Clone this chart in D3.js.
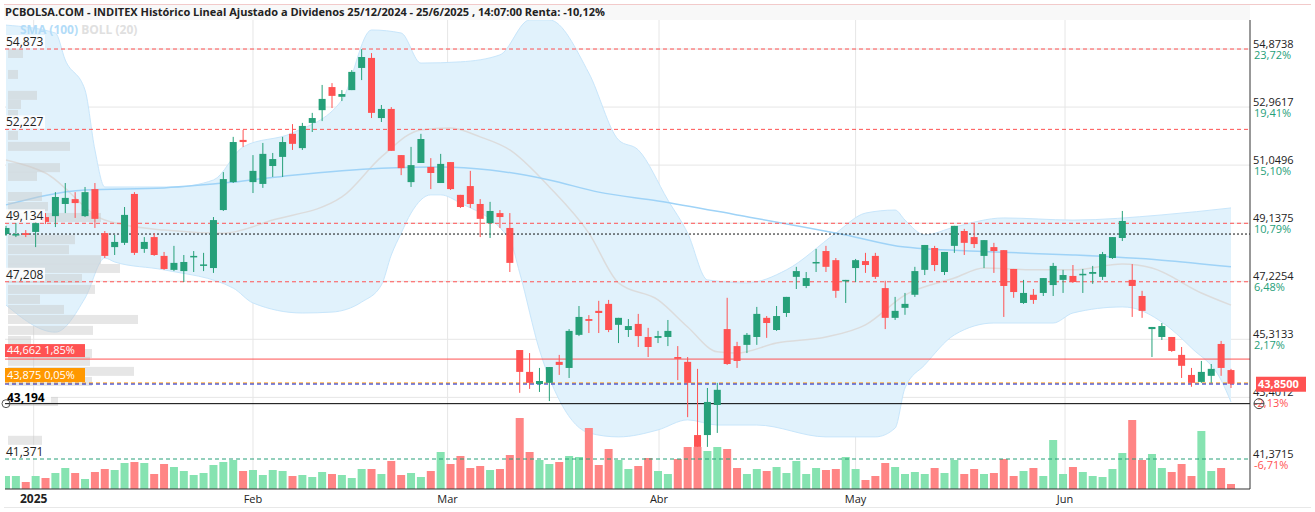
<!DOCTYPE html>
<html><head><meta charset="utf-8">
<script src="https://cdn.jsdelivr.net/npm/d3@7"></script>
<style>body{margin:0;background:#fff;font-family:"Open Sans","DejaVu Sans",sans-serif}</style>
</head><body><div id="chart"></div>
<script>
// OHLC per trading session, 26/12/2024 .. 25/6/2025
const opens  = [48.78,48.75,48.81,48.85,49.34,49.37,49.77,49.93,49.37,50.26,48.81,48.35,48.49,50.10,48.29,48.68,48.06,47.60,47.56,48.04,47.75,47.66,49.57,50.49,51.88,50.49,50.43,51.02,51.32,52.08,51.61,52.44,52.86,53.62,53.30,53.52,54.25,54.58,52.60,52.90,51.38,50.49,51.12,50.99,50.46,51.15,50.07,50.36,49.77,49.14,49.47,48.98,44.96,44.24,43.84,43.88,44.57,44.37,45.46,45.98,46.25,46.48,45.79,45.62,45.82,45.39,45.36,45.39,44.73,44.57,42.16,42.16,43.15,45.65,45.09,45.13,45.39,46.02,45.62,46.18,47.37,47.07,47.83,48.22,47.92,47.24,47.66,47.89,48.06,47.00,46.02,46.35,46.78,47.60,48.32,47.53,48.39,48.88,48.68,48.06,48.35,48.25,47.63,46.51,46.78,46.84,47.10,47.27,47.40,47.43,47.47,47.37,47.99,48.65,47.27,46.74,45.65,45.39,45.39,44.80,44.14,43.91,44.11,45.16,44.30];
const highs  = [49.05,49.14,48.91,49.16,49.47,50.16,50.46,50.16,50.33,50.46,48.88,48.75,49.67,50.16,48.68,48.81,48.19,48.39,48.09,48.22,48.16,49.34,50.82,51.98,52.21,51.38,51.78,51.45,51.98,52.40,52.44,52.77,53.69,53.75,53.52,54.18,54.87,54.74,53.03,52.96,51.38,51.65,52.08,51.28,51.42,51.15,50.07,50.86,49.93,49.84,49.57,49.47,44.96,44.86,44.37,44.40,44.80,45.65,46.41,46.11,46.58,46.61,46.02,45.98,46.15,45.69,45.59,45.95,45.09,44.73,44.34,43.71,43.88,46.68,45.23,45.52,46.38,46.08,46.41,46.71,47.70,47.53,48.29,48.39,47.99,47.27,47.96,48.16,48.16,47.24,46.71,46.84,47.70,48.42,48.39,48.19,49.05,48.95,49.14,48.58,48.49,48.25,47.63,47.27,46.97,47.33,47.83,47.60,47.76,47.63,47.73,48.19,48.68,49.54,47.79,46.91,45.72,45.85,45.39,45.06,44.37,44.60,44.50,45.26,44.34];
const lows   = [48.72,48.68,48.68,48.35,49.11,49.01,49.47,49.31,49.34,48.98,47.99,48.09,48.42,48.09,48.16,48.06,47.60,47.56,47.20,47.53,47.56,47.50,49.54,50.46,51.65,50.13,50.30,50.66,50.66,51.55,51.55,52.14,52.50,52.93,53.16,53.52,53.85,52.60,52.47,51.52,50.72,50.33,51.12,50.26,50.46,50.23,49.64,49.64,48.68,48.65,48.98,47.53,43.55,43.68,43.58,43.28,44.14,44.04,45.42,45.52,45.52,45.55,45.19,45.39,45.06,44.73,45.19,45.09,43.97,42.75,41.77,41.77,42.23,44.47,44.37,44.86,45.13,45.36,45.59,46.05,46.97,47.00,47.53,47.53,46.68,46.51,47.20,47.50,47.30,45.65,45.95,46.12,46.71,47.43,47.56,47.43,48.16,48.09,48.32,47.66,47.50,46.05,46.68,46.48,46.48,46.74,46.74,46.84,47.17,46.84,47.14,47.27,47.96,48.55,46.05,46.02,44.73,45.29,44.90,44.04,43.75,43.88,43.88,44.11,43.71];
const closes = [48.98,48.78,48.75,49.14,49.18,50.00,49.97,49.80,50.16,49.28,48.06,48.52,49.41,48.16,48.52,48.09,47.63,47.83,47.86,48.06,47.78,49.24,50.59,51.81,51.81,50.86,51.42,51.25,51.81,51.75,52.34,52.60,53.23,53.33,53.39,54.12,54.61,52.77,52.90,51.52,50.95,51.05,51.91,50.79,51.09,50.26,49.67,49.77,49.28,49.54,49.34,47.83,44.24,43.88,43.94,44.40,44.47,45.59,46.05,45.92,46.18,45.62,46.02,45.75,45.42,45.06,45.42,45.59,44.67,43.88,41.77,43.25,43.65,44.50,44.60,45.46,46.15,45.85,46.08,46.71,47.56,47.33,47.86,47.70,46.91,47.27,47.92,47.76,47.37,46.02,46.25,46.48,47.56,48.42,47.76,48.19,49.05,48.49,48.45,48.58,48.22,47.07,46.87,46.84,46.61,47.33,47.73,47.43,47.20,47.47,47.53,48.12,48.68,49.21,47.07,46.25,45.72,45.75,44.93,44.44,43.88,44.24,44.34,44.37,43.85];
// volume, millions of shares
const volumes = [1.3,1.3,0.7,1.3,1.1,1.6,2.1,1.6,1.0,1.7,2.0,1.9,2.6,2.7,2.6,1.5,2.5,2.2,1.8,1.4,1.6,2.4,2.7,2.9,1.8,1.9,1.4,1.9,1.8,1.3,1.4,1.2,1.7,1.5,1.4,1.1,2.0,2.0,1.5,2.8,1.4,1.6,1.2,1.8,3.7,2.5,3.3,2.1,2.3,1.9,2.0,3.4,7.1,3.7,2.9,2.5,2.7,3.3,3.2,6.1,2.4,4.0,2.9,2.0,2.3,3.1,1.8,1.5,3.0,4.2,4.2,3.8,4.2,4.0,2.1,1.5,2.0,1.8,2.2,1.6,2.8,1.5,2.1,1.9,2.0,3.2,2.0,0.9,1.3,2.6,2.2,1.5,1.7,1.5,2.1,1.6,2.9,1.5,2.0,1.5,1.6,3.0,1.3,1.8,2.1,1.3,4.9,1.5,2.2,1.7,1.3,1.2,2.0,3.6,6.9,2.9,3.5,2.1,1.7,2.5,1.3,5.8,1.8,2.1,0.5];

// indicators: [session index, value]
const sma100 = [[0,49.74],[8,50.23],[16,50.30],[23,50.49],[29,50.72],[38,50.95],[44,50.99],[49,50.89],[55,50.56],[60,50.16],[66,49.87],[74,49.41],[85,48.75],[91,48.35],[100,48.19],[108,48.09],[117,47.92],[124,47.70]];
const bollUpper = [[0,55.66],[5,55.40],[6,54.51],[8,53.52],[9,51.55],[10,50.33],[13,50.33],[17,50.33],[21,50.56],[24,51.65],[29,52.11],[34,53.19],[37,55.50],[40,55.40],[42,54.41],[46,54.45],[50,54.68],[53,55.83],[55,55.83],[59,54.08],[62,51.88],[64,51.55],[67,49.90],[69,48.81],[71,47.27],[75,47.17],[79,47.60],[84,48.81],[87,49.47],[90,49.57],[91,49.24],[93,48.75],[96,49.01],[101,49.31],[108,49.24],[117,49.41],[124,49.64]];
const bollLower = [[0,46.44],[5,45.55],[8,46.67],[10,47.99],[11,47.86],[16,47.60],[23,47.00],[25,46.51],[30,46.18],[33,46.21],[36,46.54],[38,47.10],[39,48.09],[40,48.81],[41,49.47],[43,50.07],[44,50.07],[46,49.80],[51,48.58],[52,47.50],[54,44.96],[56,43.32],[59,42.23],[62,42.10],[66,42.33],[69,42.66],[72,42.49],[76,42.49],[83,42.10],[88,42.10],[90,42.39],[91,43.71],[93,44.47],[96,45.46],[100,45.85],[106,45.85],[108,46.18],[113,46.38],[114,46.35],[117,45.88],[120,45.03],[123,43.97],[124,43.25]];
const bollMid = [[0,51.22],[4,50.79],[10,49.24],[16,48.91],[22,48.81],[27,49.24],[34,50.00],[38,51.32],[42,52.21],[45,52.27],[48,51.98],[51,51.55],[55,50.33],[59,48.81],[62,47.17],[66,46.61],[69,45.72],[72,44.90],[74,44.86],[78,45.19],[83,45.39],[87,45.79],[91,46.77],[96,47.33],[99,47.66],[104,47.60],[108,47.60],[113,47.79],[116,47.66],[121,46.84],[124,46.44]];

// volume profile: price bin, relative size
const profilePrice = [54.71,54.02,53.33,53.03,52.70,52.01,51.65,50.95,50.66,50.00,49.67,49.31,48.58,48.25,47.92,47.63,47.30,46.94,46.61,46.28,45.95,45.59,45.26,44.83,44.57,44.24,43.91,43.25,41.97];
const profileSize  = [15,10,29,13,10,10,62,52,29,34,40,93,67,61,93,112,74,87,32,56,130,85,23,84,82,126,84,50,34];

const priceTicks = [54.8738,52.9617,51.0496,49.1375,47.2254,45.3133,43.4012,41.3715];
const pctTicks = [23.72,19.41,15.10,10.79,6.48,2.17,-2.13,-6.71];
const monthLabels = ["2025","Feb","Mar","Abr","May","Jun"];
const monthIdx = [2.8,25,44.7,66.1,86,107.2];
const levelLines = [54.873,52.227,49.134,47.208];

const W = 1315, H = 512;
const svg = d3.select("#chart").append("svg").attr("width", W).attr("height", H);
const plotL = 5, plotR = 1250, plotT = 20, plotB = 489;
const x = d3.scaleLinear([0, 124], [6, 1231]);
const y = d3.scaleLinear([41.3715, 54.8738], [459, 49]);
const yv = d3.scaleLinear([0, 7.1], [plotB, 418]);
const fmt = (v, d) => v.toFixed(d).replace(".", ",");

const green = "#26a079", red = "#ff5252";

// header
svg.append("rect").attr("x", 4).attr("y", 4).attr("width", W - 8).attr("height", 1).attr("fill", "#f2caca");
svg.append("rect").attr("x", 4).attr("y", 5).attr("width", plotR - 4).attr("height", 15).attr("fill", "#f8f8f8");
svg.append("text").attr("x", 5).attr("y", 16).attr("font-size", 11).attr("font-weight", "bold").attr("fill", "#222")
  .text("PCBOLSA.COM - INDITEX Histórico Lineal Ajustado a Dividenos 25/12/2024 - 25/6/2025 , 14:07:00 Renta: -10,12%");

svg.append("clipPath").attr("id", "pc").append("rect")
  .attr("x", plotL).attr("y", plotT).attr("width", plotR - plotL).attr("height", plotB - plotT);
const g = svg.append("g").attr("clip-path", "url(#pc)");

// grid
priceTicks.slice(0, 7).forEach(p => g.append("line").attr("x1", plotL).attr("x2", plotR)
  .attr("y1", y(p)).attr("y2", y(p)).attr("stroke", "#e6e6e6"));
monthIdx.forEach(i => g.append("line").attr("x1", x(i)).attr("x2", x(i))
  .attr("y1", plotT).attr("y2", plotB).attr("stroke", "#e6e6e6"));

// bollinger band + sma
const lineGen = d3.line().curve(d3.curveMonotoneX).x(d => x(d[0])).y(d => y(d[1]));
const upPath = lineGen(bollUpper);
const loRev = lineGen(bollLower.slice().reverse());
g.append("path").attr("d", upPath + "L" + loRev.slice(1) + "Z").attr("fill", "#e1f2fc");
g.append("path").attr("d", upPath).attr("fill", "none").attr("stroke", "#c8e6fb");
g.append("path").attr("d", lineGen(bollLower)).attr("fill", "none").attr("stroke", "#c8e6fb");
g.append("path").attr("d", lineGen(bollMid)).attr("fill", "none").attr("stroke", "#dcdcdc").attr("stroke-width", 1.5);
g.append("path").attr("d", lineGen(sma100)).attr("fill", "none").attr("stroke", "#9fd3f7").attr("stroke-width", 1.5);

// volume profile
profilePrice.forEach((p, k) => g.append("rect").attr("x", 8).attr("y", y(p) - 5).attr("width", profileSize[k]).attr("height", 9)
  .attr("fill", "#c8c8c8").attr("opacity", 0.45));

// volume bars
volumes.forEach((v, i) => {
  const up = closes[i] >= opens[i];
  g.append("rect").attr("x", x(i) - 4).attr("width", 8).attr("y", yv(v)).attr("height", plotB - yv(v))
    .attr("fill", up ? "#86e3b1" : "#ff8585");
});

// level lines
const hline = (p, col, dash) => g.append("line").attr("x1", plotL).attr("x2", plotR).attr("y1", y(p)).attr("y2", y(p))
  .attr("stroke", col).attr("stroke-dasharray", dash);
levelLines.forEach(p => hline(p, red, "4,3"));
hline(48.78, "#111", "2,2");
hline(44.662, red, null);
hline(43.875, "#ff9800", "4,3");
hline(43.84, "#1020d0", "4,3");
hline(43.194, "#000", null);
hline(41.371, green, "4,3");

// candles
closes.forEach((c, i) => {
  const o = opens[i], col = c >= o ? green : red;
  g.append("line").attr("x1", x(i)).attr("x2", x(i)).attr("y1", y(highs[i])).attr("y2", y(lows[i])).attr("stroke", col);
  const top = y(Math.max(o, c)), h = Math.max(1.5, Math.abs(y(o) - y(c)));
  g.append("rect").attr("x", x(i) - 3.5).attr("width", 7).attr("y", top).attr("height", h).attr("fill", col);
});

// legend
svg.append("text").attr("x", 20).attr("y", 34).attr("font-size", 12).attr("font-weight", "bold")
  .html('<tspan fill="#b3dcf8">SMA (100)</tspan><tspan fill="#e0e0e0"> BOLL (20)</tspan>');

// left level labels
[[54.873, "54,873"], [52.227, "52,227"], [49.134, "49,134"], [47.208, "47,208"], [41.371, "41,371"]].forEach(([p, t]) => {
  svg.append("rect").attr("x", 5).attr("y", y(p) - 14).attr("width", 40).attr("height", 13).attr("fill", "#fff").attr("opacity", 0.85);
  svg.append("text").attr("x", 6).attr("y", y(p) - 3).attr("font-size", 12).attr("fill", "#222").text(t);
});
svg.append("rect").attr("x", 5).attr("y", y(44.662) - 15).attr("width", 80).attr("height", 13).attr("fill", red);
svg.append("text").attr("x", 7).attr("y", y(44.662) - 5).attr("font-size", 11).attr("fill", "#fff").text("44,662  1,85%");
svg.append("rect").attr("x", 5).attr("y", y(43.875) - 15).attr("width", 80).attr("height", 14).attr("fill", "#ff9800");
svg.append("text").attr("x", 7).attr("y", y(43.875) - 4).attr("font-size", 11).attr("fill", "#fff").text("43,875  0,05%");
svg.append("rect").attr("x", 5).attr("y", y(43.194) - 13).attr("width", 46).attr("height", 12).attr("fill", "#fff").attr("opacity", 0.85);
svg.append("text").attr("x", 7).attr("y", y(43.194) - 2).attr("font-size", 12).attr("font-weight", "bold").attr("fill", "#000").text("43,194");
svg.append("circle").attr("cx", 6).attr("cy", y(43.194)).attr("r", 4).attr("fill", "none").attr("stroke", "#555");

// right axis
svg.append("line").attr("x1", plotR).attr("x2", plotR).attr("y1", plotT).attr("y2", plotB).attr("stroke", "#333");
priceTicks.forEach((p, k) => {
  const pct = pctTicks[k];
  svg.append("text").attr("x", plotR + 3).attr("y", y(p) - 1).attr("font-size", 11).attr("fill", "#222").text(fmt(p, 4));
  svg.append("text").attr("x", plotR + 4).attr("y", y(p) + 10).attr("font-size", 11)
    .attr("fill", pct >= 0 ? green : red).text(fmt(pct, 2) + "%");
});
svg.append("rect").attr("x", plotR + 6).attr("y", y(43.85) - 7).attr("width", 50).attr("height", 15).attr("fill", red);
svg.append("text").attr("x", plotR + 8).attr("y", y(43.85) + 4).attr("font-size", 11).attr("font-weight", "bold").attr("fill", "#fff").text("43,8500");
svg.append("circle").attr("cx", plotR + 9).attr("cy", y(43.194)).attr("r", 5).attr("fill", "none").attr("stroke", "#444");
svg.append("line").attr("x1", plotR + 4).attr("x2", plotR + 14).attr("y1", y(43.194)).attr("y2", y(43.194)).attr("stroke", "#444");

// bottom axis
svg.append("line").attr("x1", plotL).attr("x2", plotR).attr("y1", plotB).attr("y2", plotB).attr("stroke", "#333");
monthLabels.forEach((t, k) => svg.append("text").attr("x", x(monthIdx[k])).attr("y", 503)
  .attr("text-anchor", "middle").attr("font-size", t === "2025" ? 12 : 11).attr("font-weight", t === "2025" ? "bold" : "normal")
  .attr("fill", "#222").text(t));
svg.append("rect").attr("x", 4).attr("y", 507).attr("width", W - 8).attr("height", 1).attr("fill", "#e8e8e8");
</script></body></html>
